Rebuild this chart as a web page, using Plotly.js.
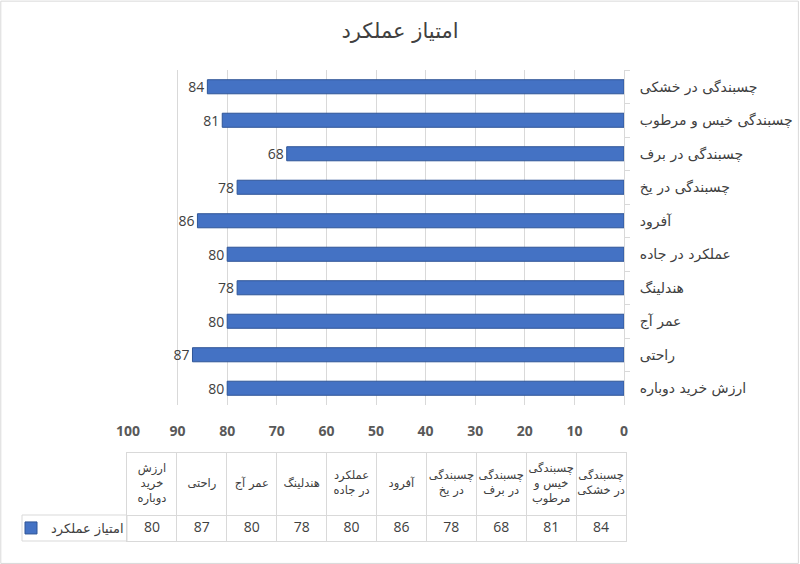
<!DOCTYPE html>
<html>
<head>
<meta charset="utf-8">
<script src="https://cdn.plot.ly/plotly-3.0.1.min.js"></script>
<style>
  html, body { margin: 0; padding: 0; background: #ffffff; }
  #chart { width: 800px; height: 564px; }
</style>
</head>
<body>
<div id="chart"></div>
<script>
// =====================
// DATA
// =====================
const seriesName = "امتیاز عملکرد";

// categories, top to bottom as shown on the bar chart
const categories = [
    "چسبندگی در خشکی",
    "چسبندگی خیس و مرطوب",
    "چسبندگی در برف",
    "چسبندگی در یخ",
    "آفرود",
    "عملکرد در جاده",
    "هندلینگ",
    "عمر آج",
    "راحتی",
    "ارزش خرید دوباره"
];
const scores = [84, 81, 68, 78, 86, 80, 78, 80, 87, 80];

// wrapped labels used in the data table header (same order as categories)
const tableHeaders = [
    "چسبندگی<br>در خشکی",
    "چسبندگی<br>خیس و<br>مرطوب",
    "چسبندگی<br>در برف",
    "چسبندگی<br>در یخ",
    "آفرود",
    "عملکرد<br>در جاده",
    "هندلینگ",
    "عمر آج",
    "راحتی",
    "ارزش<br>خرید<br>دوباره"
];

const xTicks = [0, 10, 20, 30, 40, 50, 60, 70, 80, 90, 100];

// =====================
// HELPERS
// =====================
const W = 800, H = 564;
const px = v => v / W;
const py = v => 1 - v / H;

const arabicFont = "DejaVu Sans, sans-serif";
const numFont = "Open Sans, Liberation Sans, sans-serif";
const gridColor = "#d9d9d9";
const textColor = "#404040";

// data table sits on its own subplot: columns run left to right in reversed order
const tableCats = categories.slice().reverse();
const TABLE_H = 88;     // table height in y2 units (px)
const VALUE_ROW = 26;   // height of the value row

// =====================
// TRACES
// =====================
const bars = {
    type: "bar",
    orientation: "h",
    name: seriesName,
    x: scores,
    y: categories,
    text: scores.map(String),
    textposition: "outside",
    constraintext: "none",
    cliponaxis: false,
    textfont: { family: numFont, size: 14, color: textColor },
    marker: { color: "#4472c4", line: { color: "#2f5597", width: 1 } },
    hoverinfo: "x+y",
    showlegend: true
};

const headerText = {
    type: "scatter",
    mode: "text",
    x: categories,
    y: categories.map(() => (TABLE_H + VALUE_ROW) / 2),
    text: tableHeaders,
    textposition: "middle center",
    textfont: { family: arabicFont, size: 11.5, color: textColor },
    xaxis: "x2",
    yaxis: "y2",
    hoverinfo: "skip",
    showlegend: false,
    cliponaxis: false
};

const valueText = {
    type: "scatter",
    mode: "text",
    x: categories,
    y: categories.map(() => VALUE_ROW / 2),
    text: scores.map(String),
    textposition: "middle center",
    textfont: { family: numFont, size: 14, color: textColor },
    xaxis: "x2",
    yaxis: "y2",
    hoverinfo: "skip",
    showlegend: false,
    cliponaxis: false
};

// =====================
// LAYOUT
// =====================
const layout = {
    width: W,
    height: H,
    margin: { l: 0, r: 0, t: 0, b: 0 },
    paper_bgcolor: "#ffffff",
    plot_bgcolor: "#ffffff",
    bargap: 0.58,
    title: {
        text: "امتیاز عملکرد",
        x: 0.5,
        y: 1 - 31 / H,
        xanchor: "center",
        yanchor: "middle",
        font: { family: arabicFont, size: 21, color: textColor }
    },
    xaxis: {
        domain: [px(128), px(624)],
        anchor: "y",
        range: [100, 0],
        tickvals: xTicks,
        ticktext: xTicks.map(String),
        showgrid: true,
        gridcolor: gridColor,
        gridwidth: 1,
        zeroline: false,
        showline: false,
        ticks: "",
        ticklabelstandoff: 16,
        fixedrange: true,
        tickfont: { family: numFont, size: 14, color: "#595959", weight: "bold" }
    },
    yaxis: {
        domain: [py(405), py(70)],
        anchor: "x",
        type: "category",
        categoryorder: "array",
        categoryarray: categories,
        autorange: "reversed",
        side: "right",
        showgrid: false,
        zeroline: false,
        showline: true,
        linecolor: gridColor,
        ticks: "outside",
        tickson: "boundaries",
        ticklen: 5,
        tickcolor: gridColor,
        ticklabelstandoff: 12,
        fixedrange: true,
        tickfont: { family: arabicFont, size: 14, color: textColor }
    },
    xaxis2: {
        domain: [px(127), px(626)],
        anchor: "y2",
        type: "category",
        categoryorder: "array",
        categoryarray: tableCats,
        range: [-0.5, tableCats.length - 0.5],
        showgrid: true,
        gridcolor: gridColor,
        tickson: "boundaries",
        ticks: "",
        showticklabels: false,
        showline: true,
        mirror: true,
        linecolor: gridColor,
        zeroline: false,
        fixedrange: true
    },
    yaxis2: {
        domain: [py(541), py(453)],
        anchor: "x2",
        range: [0, TABLE_H],
        tickvals: [VALUE_ROW],
        showgrid: true,
        gridcolor: gridColor,
        ticks: "",
        showticklabels: false,
        showline: true,
        mirror: true,
        linecolor: gridColor,
        zeroline: false,
        fixedrange: true
    },
    showlegend: true,
    legend: {
        x: px(11),
        y: py(528),
        xanchor: "left",
        yanchor: "middle",
        bgcolor: "rgba(0,0,0,0)",
        font: { family: arabicFont, size: 13, color: textColor },
        itemwidth: 30
    },
    shapes: [
        // legend cell of the data table
        {
            type: "rect", xref: "paper", yref: "paper",
            x0: px(22), x1: px(127), y0: py(541), y1: py(515),
            line: { color: gridColor, width: 1 }
        },
        // chart frame
        {
            type: "rect", xref: "paper", yref: "paper",
            x0: 0.001, x1: 0.998, y0: 0.001, y1: 0.998,
            line: { color: gridColor, width: 1 }
        }
    ]
};

Plotly.newPlot("chart", [bars, headerText, valueText], layout, { displayModeBar: false });
</script>
</body>
</html>
